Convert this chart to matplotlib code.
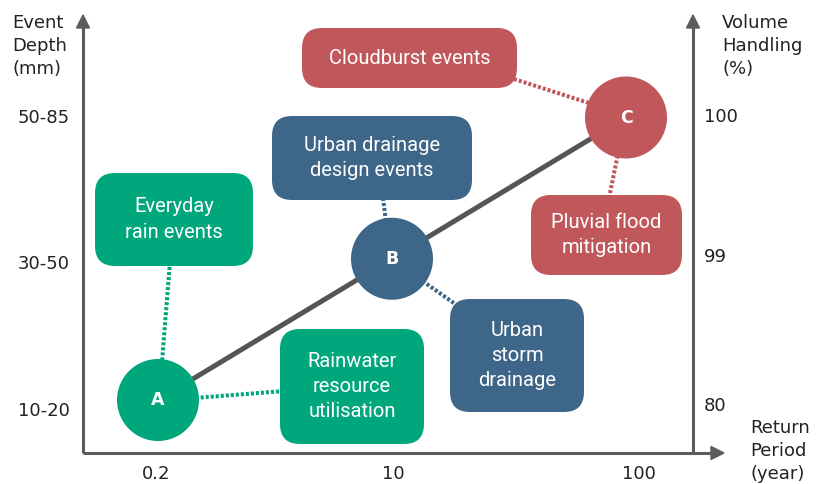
import matplotlib.pyplot as plt
from matplotlib.patches import FancyBboxPatch, Polygon

plt.rcParams['font.family'] = ['DejaVu Sans']

# axis categories
return_period = ["0.2", "10", "100"]
event_depth = ["10-20", "30-50", "50-85"]
volume_handling = ["80", "99", "100"]

# the three design classes, one per level on the diagonal
points = ["A", "B", "C"]
point_level = [0, 1, 2]

# label boxes and the point each one hangs off
box_labels = ["Everyday\nrain events", "Rainwater\nresource\nutilisation",
              "Urban drainage\ndesign events", "Urban\nstorm\ndrainage",
              "Cloudburst events", "Pluvial flood\nmitigation"]
box_owner = [0, 0, 1, 1, 2, 2]

colors = ["#00a67c", "#3e6688", "#c0575a"]
axis_col = "#5c5c5c"
text_col = "#222222"

# layout, in pixels of the 830x484 picture
box_rect = [(95, 173, 253, 266), (280, 329, 424, 444),
            (272, 116, 472, 200), (450, 299, 584, 412),
            (302, 28, 517, 88), (531, 195, 682, 275)]
# dotted link: end at the box, end at the circle
links = [((170, 262), (162, 362)), ((284, 391), (195, 398)),
         ((383, 198), (386, 222)), ((458, 306), (424, 282)),
         ((514, 79), (592, 104)), ((609, 198), (618, 154))]

W, H = 830, 484
fig = plt.figure(figsize=(W / 100, H / 100), dpi=100)
ax = fig.add_axes([0, 0, 1, 1])
ax.axis('off')

# level index -> pixel: X0 + i*SX across, Y0 - j*SY up
X0, SX = 158, 234
Y0, SY = 400, 141.25
ax.set_xlim(-X0 / SX, (W - X0) / SX)
ax.set_ylim((Y0 - H) / SY, Y0 / SY)


def P(px, py):
    return (px - X0) / SX, (Y0 - py) / SY


# axes with arrow heads
for a, b in [((83, 453), (83, 26)), ((693, 453), (693, 26)), ((83, 453), (713, 453))]:
    (x1, y1), (x2, y2) = P(*a), P(*b)
    ax.plot([x1, x2], [y1, y2], color=axis_col, lw=2.2, solid_capstyle='butt', zorder=1)
for tri in [[(83, 15), (76.5, 28), (89.5, 28)],
            [(693, 15), (686.5, 28), (699.5, 28)],
            [(724, 453), (711, 446.5), (711, 459.5)]]:
    ax.add_patch(Polygon([P(*p) for p in tri], closed=True, color=axis_col, zorder=1))

# axis titles
title_kw = dict(ha='left', va='center', fontsize=13, color=text_col, linespacing=1.35)
ax.text(*P(12, 46), "Event\nDepth\n(mm)", **title_kw)
ax.text(*P(722, 46), "Volume\nHandling\n(%)", **title_kw)
ax.text(*P(750, 451), "Return\nPeriod\n(year)", **title_kw)

# tick labels
for lab, py in zip(event_depth, [411, 264, 118]):
    ax.text(*P(70, py), lab, ha='right', va='center', fontsize=13, color=text_col)
for lab, py in zip(volume_handling, [406, 257, 117]):
    ax.text(*P(704, py), lab, ha='left', va='center', fontsize=13, color=text_col)
for lab, px in zip(return_period, [156, 393, 639]):
    ax.text(*P(px, 474), lab, ha='center', va='center', fontsize=13, color=text_col)

# diagonal trend line through the points
ax.plot([point_level[0], point_level[-1]], [point_level[0], point_level[-1]],
        color="#555555", lw=3.6, solid_capstyle='butt', zorder=2)

# dotted links
for (a, b), k in zip(links, box_owner):
    (x1, y1), (x2, y2) = P(*a), P(*b)
    ax.plot([x1, x2], [y1, y2], color=colors[k], lw=2.9,
            linestyle=(0, (0.75, 0.5)), dash_capstyle='butt', zorder=1.5)

# boxes
for lab, (x1, y1, x2, y2), k in zip(box_labels, box_rect, box_owner):
    lx, ly = P(x1, y2)
    box = FancyBboxPatch((lx, ly), (x2 - x1) / SX, (y2 - y1) / SY,
                         boxstyle=f"round,pad=0,rounding_size={20 / SX}",
                         mutation_aspect=SX / SY, fc=colors[k], ec='none', zorder=3)
    ax.add_patch(box)
    cx, cy = P((x1 + x2) / 2, (y1 + y2) / 2)
    ax.text(cx, cy, lab, ha='center', va='center', color='white',
            fontsize=14.5, family='Roboto', linespacing=1.42, zorder=4)

# circles
ax.scatter(point_level, point_level, s=(82 * 0.72) ** 2, c=colors,
           edgecolors='none', zorder=4)
for lab, lv in zip(points, point_level):
    ax.text(lv, lv, lab, ha='center', va='center', color='white',
            fontsize=12.5, fontweight='bold', zorder=5)

fig.savefig("out.png", dpi=100)
